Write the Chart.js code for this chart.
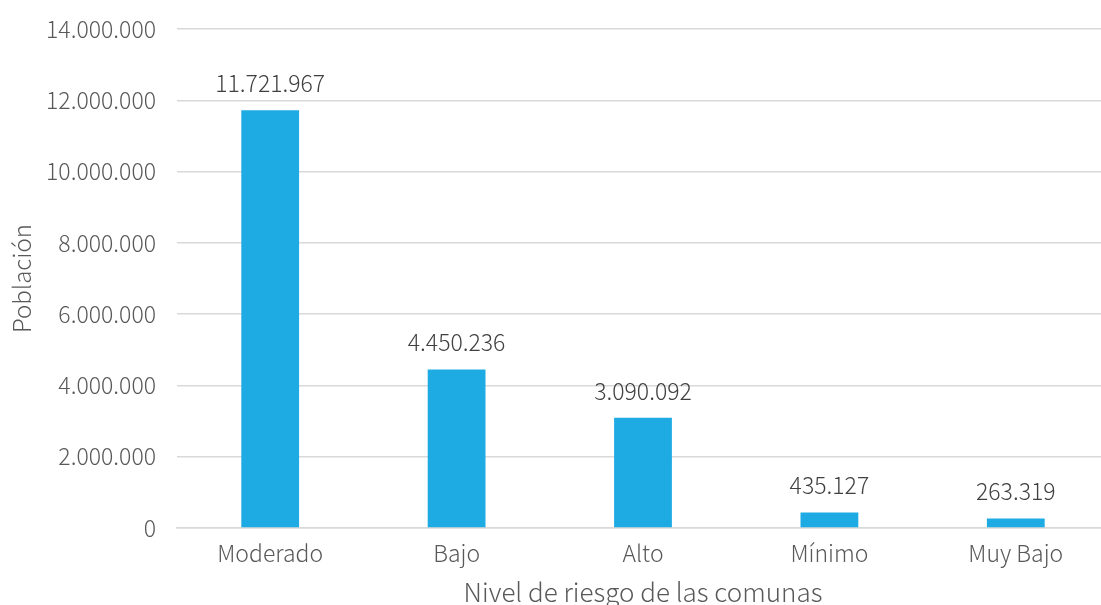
<!DOCTYPE html>
<html>
<head>
<meta charset="utf-8">
<script src="https://cdn.jsdelivr.net/npm/chart.js@4/dist/chart.umd.min.js"></script>
<style>
	html, body { margin: 0; padding: 0; overflow: hidden; background: #fff; }
	#wrap { width: 1109px; height: 620px; }
</style>
</head>
<body>
<div id="wrap"><canvas id="chartRiesgo"></canvas></div>
<script>
var niveles = ['Moderado', 'Bajo', 'Alto', 'Mínimo', 'Muy Bajo'];
var poblacion = [11721967, 4450236, 3090092, 435127, 263319];
var ejeMin = 0, ejeMax = 14000000, ejePaso = 2000000;

var fuente = '"Noto Sans CJK SC", "Noto Sans", sans-serif';
var fmt = new Intl.NumberFormat('de-DE');

// etiquetas de valor encima de cada barra
var etiquetasValor = {
	id: 'etiquetasValor',
	afterDatasetsDraw: function (chart) {
		var ctx = chart.ctx;
		var meta = chart.getDatasetMeta(0);
		ctx.save();
		ctx.font = '300 23px ' + fuente;
		ctx.fillStyle = '#404040';
		ctx.textAlign = 'center';
		ctx.textBaseline = 'middle';
		meta.data.forEach(function (bar, i) {
			ctx.fillText(fmt.format(poblacion[i]), bar.x, bar.y - 27);
		});
		ctx.restore();
	}
};

new Chart(document.getElementById('chartRiesgo'), {
	type: 'bar',
	data: {
		labels: niveles,
		datasets: [{
			label: 'Población',
			data: poblacion,
			backgroundColor: '#1eabe3',
			barPercentage: 0.31,
			categoryPercentage: 1
		}]
	},
	options: {
		responsive: true,
		maintainAspectRatio: false,
		animation: false,
		layout: { padding: { top: 29, right: 0, bottom: 0, left: 0 } },
		plugins: {
			legend: { display: false },
			tooltip: { enabled: false }
		},
		scales: {
			x: {
				grid: { display: false, drawTicks: false },
				border: { color: '#d9d9d9', width: 1.5 },
				ticks: {
					color: '#595959',
					padding: 11,
					font: { family: fuente, size: 23, weight: '300' }
				},
				title: {
					display: true,
					text: 'Nivel de riesgo de las comunas',
					color: '#595959',
					padding: { top: 0, bottom: 12 },
					font: { family: fuente, size: 26, weight: '300' }
				},
				afterFit: function (scale) { scale.height = 92; }
			},
			y: {
				min: ejeMin,
				max: ejeMax,
				grid: { color: '#d9d9d9', lineWidth: 1.5, drawTicks: false },
				border: { display: false },
				ticks: {
					stepSize: ejePaso,
					color: '#595959',
					padding: 21,
					font: { family: fuente, size: 23, weight: '300' },
					callback: function (v) { return fmt.format(v); }
				},
				title: {
					display: true,
					text: 'Población',
					color: '#595959',
					padding: { top: 7, bottom: 0 },
					font: { family: fuente, size: 24, weight: '300' }
				},
				afterFit: function (scale) {
					scale.width = 177;
					scale.paddingTop = 0;
					scale.paddingBottom = 0;
				}
			}
		}
	},
	plugins: [etiquetasValor]
});
</script>
</body>
</html>
